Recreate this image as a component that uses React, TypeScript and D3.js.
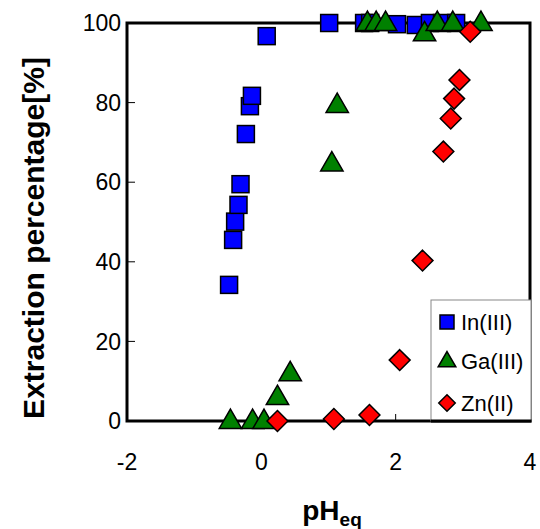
import React from "react";
import * as d3 from "d3";

const inX = [-0.48, -0.42, -0.39, -0.34, -0.31, -0.23, -0.17, -0.14, 0.08, 1.01, 1.53, 1.62, 2.02, 2.3, 2.51, 2.69, 2.9];
const inY = [34.2, 45.5, 50.1, 54.3, 59.5, 72.1, 79.1, 81.7, 96.7, 100, 100, 100, 99.7, 99.5, 100, 100, 100];
const gaX = [-0.46, -0.13, 0.04, 0.24, 0.43, 1.05, 1.13, 1.58, 1.71, 1.85, 2.43, 2.62, 2.85, 3.27];
const gaY = [0, 0, 0, 6, 12, 64.7, 79.4, 100, 100, 100, 97.4, 100, 100, 100];
const znX = [0.24, 1.08, 1.61, 2.06, 2.4, 2.71, 2.82, 2.87, 2.95, 3.11];
const znY = [0, 0.5, 1.5, 15.3, 40.3, 67.7, 76, 81, 85.7, 97.8];
const xTicks = [-2, 0, 2, 4];
const yTicks = [0, 20, 40, 60, 80, 100];
const seriesNames = ["In(III)", "Ga(III)", "Zn(II)"];

const W = 540, H = 529;
const L = 127, R = 530, T = 23, B = 421;
const FONT = "'Liberation Sans', Arial, sans-serif";

function Marker({ kind, x, y, s }: { kind: number; x: number; y: number; s: number }) {
  if (kind === 0) {
    return <rect x={x - s / 2} y={y - s / 2} width={s} height={s} fill="#0000ff" stroke="#000" strokeWidth={1.5} />;
  }
  if (kind === 1) {
    const sym = d3.symbol(d3.symbolTriangle, s * s * 0.6)();
    return <path d={sym as string} transform={`translate(${x},${y + s * 0.05})`} fill="#008000" stroke="#000" strokeWidth={1.5} />;
  }
  const h = s * 0.55;
  return <path d={`M${x},${y - h}L${x + h},${y}L${x},${y + h}L${x - h},${y}Z`} fill="#ff0000" stroke="#000" strokeWidth={1.5} />;
}

export default function App() {
  const xs = d3.scaleLinear().domain([-2, 4]).range([L, R]);
  const ys = d3.scaleLinear().domain([0, 100]).range([B, T]);
  const series = [
    { xs: inX, ys: inY },
    { xs: gaX, ys: gaY },
    { xs: znX, ys: znY },
  ];
  const legX = 431, legY = 300, legW = 100, legH = 121;
  const legRows = [322, 361, 403];
  return (
    <svg width={W} height={H} style={{ position: "absolute", left: 0, top: 0, fontFamily: FONT }}>
      <rect x={0} y={0} width={W} height={H} fill="#fff" />
      {yTicks.map((t) => (
        <g key={"y" + t}>
          <line x1={L} x2={L + 8} y1={ys(t)} y2={ys(t)} stroke="#000" strokeWidth={1} />
          <text x={L - 6} y={ys(t)} dy="0.36em" textAnchor="end" fontSize={23}>{t}</text>
        </g>
      ))}
      {xTicks.map((t) => (
        <g key={"x" + t}>
          <line x1={xs(t)} x2={xs(t)} y1={B} y2={B - 7} stroke="#000" strokeWidth={1} />
          <text x={xs(t)} y={462} dy="0.36em" textAnchor="middle" fontSize={23}>{t}</text>
        </g>
      ))}
      <rect x={L} y={T} width={R - L} height={B - T} fill="none" stroke="#000" strokeWidth={3} />
      {series.map((s, k) =>
        s.xs.map((xv, i) => <Marker key={k + "-" + i} kind={k} x={xs(xv)} y={ys(s.ys[i])} s={k === 0 ? 17 : 19} />)
      )}
      <rect x={legX} y={legY} width={legW} height={legH} fill="#fff" stroke="#888" strokeWidth={1} />
      <line x1={legX} x2={R + 1.5} y1={B} y2={B} stroke="#000" strokeWidth={3} />
      {seriesNames.map((n, k) => (
        <g key={n}>
          <Marker kind={k} x={447} y={legRows[k]} s={k === 0 ? 14 : 15} />
          <text x={461} y={legRows[k]} dy="0.36em" fontSize={22}>{n}</text>
        </g>
      ))}
      <text transform={`translate(44,238) rotate(-90)`} textAnchor="middle" fontSize={30} fontWeight="bold">Extraction percentage[%]</text>
      <text x={332} y={520} textAnchor="middle" fontSize={28} fontWeight="bold">
        pH<tspan fontSize={19} dy={6}>eq</tspan>
      </text>
    </svg>
  );
}
